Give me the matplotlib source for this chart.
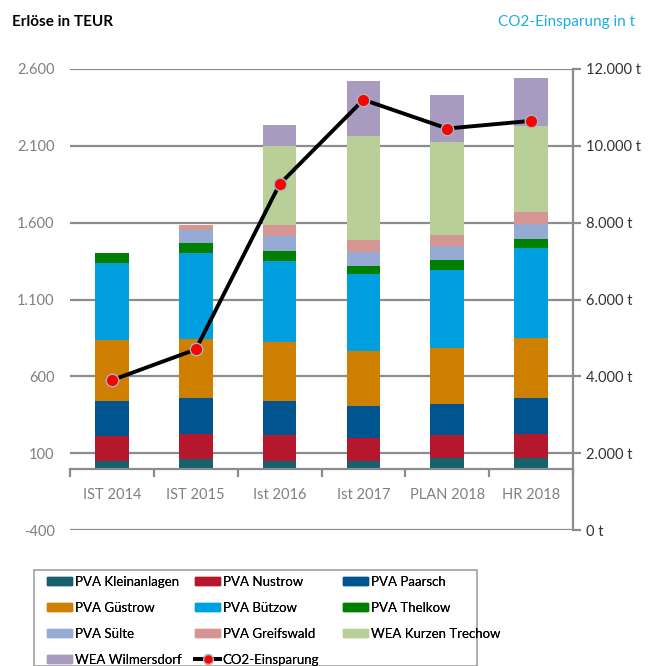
import matplotlib.pyplot as plt
import numpy as np
from matplotlib.lines import Line2D
from matplotlib.patches import Patch, Rectangle

plt.rcParams['font.family'] = ['Lato', 'DejaVu Sans']

categories = ["IST 2014", "IST 2015", "Ist 2016", "Ist 2017", "PLAN 2018", "HR 2018"]

# Erlöse in TEUR per plant
kleinanlagen = [52, 59, 52, 48, 67, 67]
nustrow = [158, 167, 163, 152, 148, 159]
paarsch = [228, 230, 223, 208, 206, 236]
guestrow = [397, 390, 387, 356, 362, 389]
buetzow = [504, 556, 525, 505, 510, 583]
thelkow = [63, 63, 63, 51, 61, 59]
suelte = [0, 89, 99, 91, 94, 100]
greifswald = [0, 30, 72, 73, 73, 76]
kurzen_trechow = [0, 0, 514, 677, 601, 562]
wilmersdorf = [0, 0, 139, 360, 311, 308]

# CO2-Einsparung in t
co2 = [3900, 4700, 9000, 11200, 10450, 10650]

series = [
    ("PVA Kleinanlagen", kleinanlagen, "#17606e"),
    ("PVA Nustrow", nustrow, "#b5172c"),
    ("PVA Paarsch", paarsch, "#005490"),
    ("PVA Güstrow", guestrow, "#d08000"),
    ("PVA Bützow", buetzow, "#00a0e0"),
    ("PVA Thelkow", thelkow, "#008000"),
    ("PVA Sülte", suelte, "#95abd3"),
    ("PVA Greifswald", greifswald, "#d59593"),
    ("WEA Kurzen Trechow", kurzen_trechow, "#b9cf98"),
    ("WEA Wilmersdorf", wilmersdorf, "#a89bbf"),
]

grid_gray = "#8c8c8c"

fig = plt.figure(figsize=(6.55, 6.66), dpi=100)
ax = fig.add_axes([70 / 655, 1 - 530 / 666, 503 / 655, 461 / 666])

x = np.arange(len(categories))
bottom = np.zeros(len(categories))
for name, vals, col in series:
    ax.bar(x, vals, 0.4, bottom=bottom, color=col, linewidth=0, zorder=2)
    bottom += np.array(vals)

ax.set_xlim(-0.5, len(categories) - 0.5)
ax.set_ylim(-400, 2600)
ax.set_yticks(np.arange(-400, 2601, 500))
ax.set_yticklabels([f"{v:,}".replace(",", ".") for v in range(-400, 2601, 500)])
ax.yaxis.grid(True, color=grid_gray, linewidth=1.6)
ax.set_axisbelow(True)
ax.tick_params(axis='y', length=0, labelsize=10.5, labelcolor="#808080", pad=11)

for s in ['left', 'top', 'right']:
    ax.spines[s].set_visible(False)
ax.spines['bottom'].set_position(('data', 0))
ax.spines['bottom'].set_color(grid_gray)
ax.spines['bottom'].set_linewidth(1.6)

ax.set_xticks(x)
ax.set_xticklabels(categories)
ax.set_xticks(np.arange(-0.5, len(categories)), minor=True)
ax.tick_params(axis='x', which='major', length=0, labelsize=10.5, labelcolor="#808080", pad=14)
ax.tick_params(axis='x', which='minor', length=6, width=1.6, color=grid_gray, direction='out')

ax2 = ax.twinx()
ax2.set_ylim(0, 12000)
ax2.set_yticks(np.arange(0, 12001, 2000))
ax2.set_yticklabels([f"{v:,} t".replace(",", ".") for v in range(0, 12001, 2000)])
for s in ['left', 'top', 'bottom']:
    ax2.spines[s].set_visible(False)
ax2.spines['right'].set_color(grid_gray)
ax2.spines['right'].set_linewidth(1.6)
ax2.tick_params(axis='y', length=6, width=1.6, color=grid_gray, labelsize=10.5, labelcolor="#333333")
ax2.plot(x, co2, color="black", linewidth=2.8, marker='o', markersize=9,
         markerfacecolor="red", markeredgecolor="#9fb8c8", markeredgewidth=1, zorder=5)

fig.text(12 / 655, 1 - 22 / 666, "Erlöse in TEUR", fontsize=11, fontweight='bold', va='center')
fig.text(498 / 655, 1 - 22 / 666, "CO2-Einsparung in t", fontsize=11, color="#1aaee8", va='center')

# legend: frame plus one frameless legend per column, rows in reference order
handles = {name: Patch(color=col) for name, vals, col in series}
handles["CO2-Einsparung"] = Line2D([], [], color="black", linewidth=2.8, marker='o', markersize=7,
                                   markerfacecolor="red", markeredgecolor="#9fb8c8")
columns = [
    ["PVA Kleinanlagen", "PVA Güstrow", "PVA Sülte", "WEA Wilmersdorf"],
    ["PVA Nustrow", "PVA Bützow", "PVA Greifswald", "CO2-Einsparung"],
    ["PVA Paarsch", "PVA Thelkow", "WEA Kurzen Trechow"],
]
fig.add_artist(Rectangle((34 / 655, 0), 443 / 655, 1 - 570 / 666, transform=fig.transFigure,
                         facecolor="white", edgecolor="#a0a0a0", linewidth=1.2))
for cx, names in zip([47, 195, 343], columns):
    leg = fig.legend([handles[n] for n in names], names, loc='upper left',
                     bbox_to_anchor=(cx / 655, 1 - 576 / 666), frameon=False,
                     fontsize=9.5, borderpad=0, borderaxespad=0,
                     handlelength=1.9, handleheight=0.55, handletextpad=0.2,
                     labelspacing=1.05)
    fig.add_artist(leg)

fig.savefig("out.png", dpi=100)
